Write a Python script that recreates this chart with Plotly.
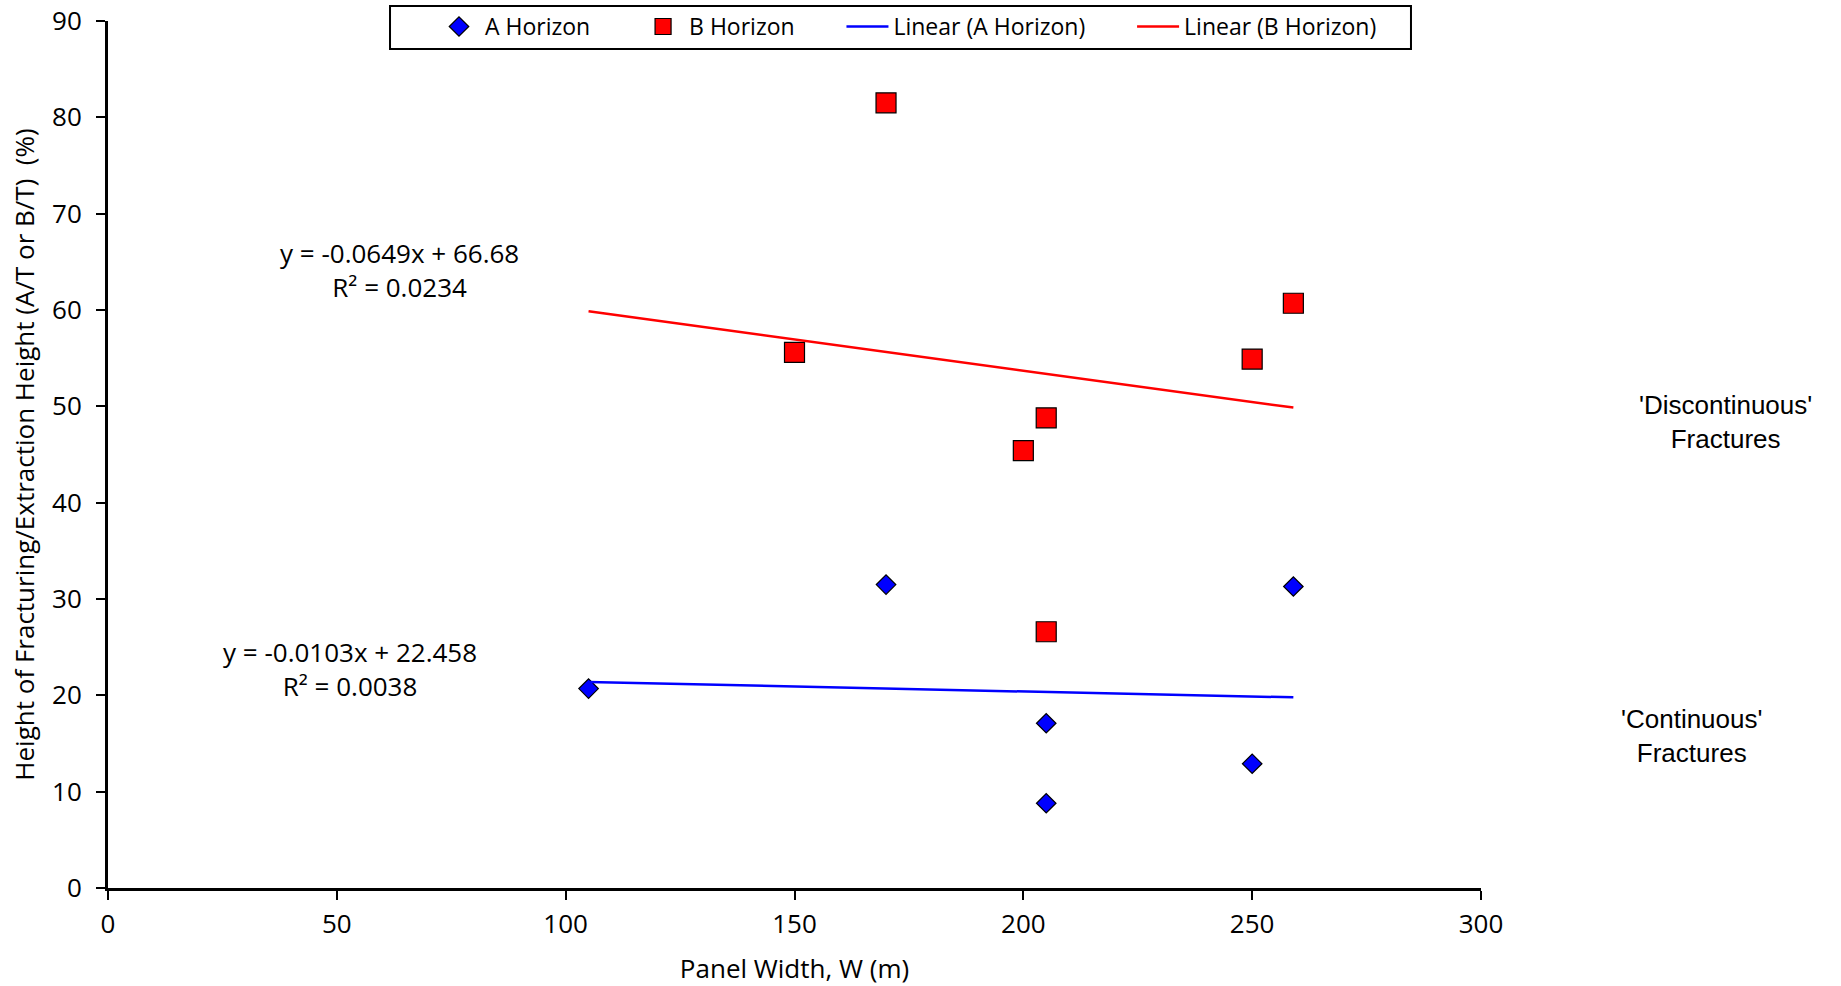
import plotly.graph_objects as go

# ---- data ----
a_width = [105, 170, 259, 205, 205, 250]
a_height = [20.7, 31.5, 31.3, 17.1, 8.8, 12.9]

b_width = [170, 150, 259, 250, 205, 200, 205]
b_height = [81.5, 55.6, 60.7, 54.9, 48.8, 45.4, 26.6]

a_slope, a_intercept, a_r2 = -0.0103, 22.458, 0.0038
b_slope, b_intercept, b_r2 = -0.0649, 66.68, 0.0234

x_ticks = [0, 50, 100, 150, 200, 250, 300]
y_ticks = [0, 10, 20, 30, 40, 50, 60, 70, 80, 90]

series_names = ["A Horizon", "B Horizon", "Linear (A Horizon)", "Linear (B Horizon)"]

# ---- styling ----
FONT = "Open Sans"
ARIAL = "Liberation Sans"
PAD = "\u00a0" * 7

trend_x = [min(a_width + b_width), max(a_width + b_width)]
a_trend_y = [a_slope * x + a_intercept for x in trend_x]
b_trend_y = [b_slope * x + b_intercept for x in trend_x]

fig = go.Figure()
fig.add_trace(go.Scatter(
    x=a_width, y=a_height, mode="markers", name=series_names[0] + PAD,
    marker=dict(symbol="diamond", size=15, color="#0000FF",
                line=dict(color="black", width=1.2)),
))
fig.add_trace(go.Scatter(
    x=b_width, y=b_height, mode="markers", name=series_names[1] + PAD,
    marker=dict(symbol="square", size=20, color="#FF0000",
                line=dict(color="black", width=1.2)),
))
fig.add_trace(go.Scatter(
    x=trend_x, y=a_trend_y, mode="lines", name=series_names[2] + PAD,
    line=dict(color="#0000FF", width=2.5),
))
fig.add_trace(go.Scatter(
    x=trend_x, y=b_trend_y, mode="lines", name=series_names[3],
    line=dict(color="#FF0000", width=2.5),
))

def eq_text(slope, intercept, r2):
    return f"y = {slope:.4f}x + {intercept:g}<br>R² = {r2:.4f}"

annotations = [
    dict(x=63.6, y=64.2, xref="x", yref="y", showarrow=False,
         xanchor="center", yanchor="middle",
         text=eq_text(b_slope, b_intercept, b_r2),
         font=dict(family=FONT, size=26, color="black"), align="center"),
    dict(x=52.9, y=22.7, xref="x", yref="y", showarrow=False,
         xanchor="center", yanchor="middle",
         text=eq_text(a_slope, a_intercept, a_r2),
         font=dict(family=FONT, size=26, color="black"), align="center"),
    dict(x=1.1784, y=0.5375, xref="paper", yref="paper", showarrow=False,
         xanchor="center", yanchor="middle",
         text="'Discontinuous'<br>Fractures",
         font=dict(family=ARIAL, size=26, color="black"), align="center"),
    dict(x=1.1530, y=0.1753, xref="paper", yref="paper", showarrow=False,
         xanchor="center", yanchor="middle",
         text="'Continuous'<br>Fractures",
         font=dict(family=ARIAL, size=26, color="black"), align="center"),
]

fig.update_layout(
    width=1841, height=986,
    margin=dict(l=108, r=360, t=21, b=98, autoexpand=False),
    paper_bgcolor="white", plot_bgcolor="white",
    font=dict(family=FONT, color="black"),
    showlegend=True,
    legend=dict(
        orientation="h", x=0.2367, xanchor="left", y=1.0184, yanchor="top",
        bgcolor="rgba(0,0,0,0)", borderwidth=0, itemwidth=42,
        font=dict(family=FONT, size=23, color="black"),
        traceorder="normal",
    ),
    shapes=[dict(type="rect", xref="paper", yref="paper",
                 x0=0.2054, x1=0.949, y0=0.9677, y1=1.0173,
                 line=dict(color="black", width=2), fillcolor="white", layer="below")],
    annotations=annotations,
)

fig.update_xaxes(
    range=[0, 300], tickvals=x_ticks, ticktext=[str(v) for v in x_ticks],
    showgrid=False, zeroline=False, automargin=False,
    showline=True, linecolor="black", linewidth=3,
    ticks="outside", ticklen=9, tickwidth=1.5, tickcolor="black",
    tickfont=dict(family=FONT, size=26, color="black"),
    ticklabelstandoff=2, ticklabeloverflow="allow",
    title=dict(text="Panel Width, W (m)", font=dict(family=FONT, size=26, color="black"), standoff=28),
)
fig.update_yaxes(
    range=[0, 90], tickvals=y_ticks, ticktext=[str(v) for v in y_ticks],
    showgrid=False, zeroline=False, automargin=False,
    showline=True, linecolor="black", linewidth=3,
    ticks="outside", ticklen=9, tickwidth=1.5, tickcolor="black",
    tickfont=dict(family=FONT, size=26, color="black"),
    ticklabelstandoff=9, ticklabeloverflow="allow",
    title=dict(text="Height of Fracturing/Extraction Height (A/T or B/T)\u00a0 (%)",
               font=dict(family=FONT, size=26, color="black"), standoff=10),
)

fig.write_html("out.html", config={"displayModeBar": False},
               post_script="document.body.style.margin='0px';")
